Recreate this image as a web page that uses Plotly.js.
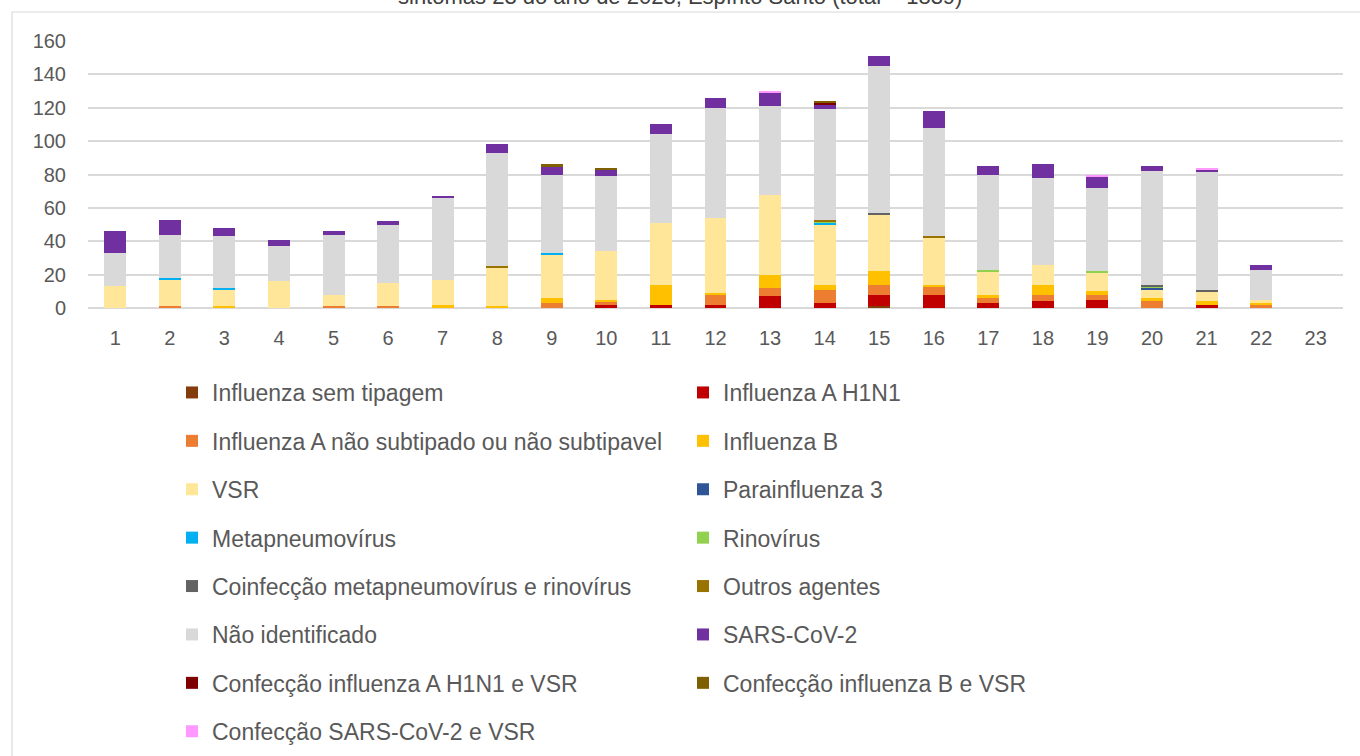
<!DOCTYPE html>
<html>
<head>
<meta charset="utf-8">
<script src="https://cdn.plot.ly/plotly-3.0.1.min.js"></script>
<style>
html,body{margin:0;padding:0;background:#fff;}
#chart{width:1360px;height:756px;}
</style>
</head>
<body>
<div id="chart"></div>
<script>
const weeks = ["1","2","3","4","5","6","7","8","9","10","11","12","13","14","15","16","17","18","19","20","21","22","23"];
const titleText = "sintomas 23 do ano de 2023, Espírito Santo (total = 1839)";

const influenzaSemTipagem   = [0,0,0,0,0,0,0,0,0,0,0,0,0,0,1,0,0,0,0,0,0,0,0];
const influenzaAH1N1        = [0,0,0,0,0,0,0,0,0,2,2,2,7,3,7,8,3,4,5,0,2,0,0];
const influenzaANaoSubtip   = [0,1,0,0,1,1,0,0,3,2,0,6,5,8,6,5,3,4,3,4,0,2,0];
const influenzaB            = [0,0,1,0,0,0,2,1,3,1,12,1,8,3,8,1,2,6,2,2,2,1,0];
const vsr                   = [13,16,10,16,7,14,15,23,26,29,37,45,48,36,34,28,14,12,11,5,6,2,0];
const parainfluenza3        = [0,0,0,0,0,0,0,0,0,0,0,0,0,0,0,0,0,0,0,1,0,0,0];
const metapneumovirus       = [0,1,1,0,0,0,0,0,1,0,0,0,0,1,0,0,0,0,0,0,0,0,0];
const rinovirus             = [0,0,0,0,0,0,0,0,0,0,0,0,0,1,0,0,1,0,1,1,0,0,0];
const coinfMetaRino         = [0,0,0,0,0,0,0,0,0,0,0,0,0,0,1,0,0,0,0,1,1,0,0];
const outrosAgentes         = [0,0,0,0,0,0,0,1,0,0,0,0,0,1,0,1,0,0,0,0,0,0,0];
const naoIdentificado       = [20,26,31,21,36,35,49,68,47,45,53,66,53,66,88,65,57,52,50,68,71,18,0];
const sarsCov2              = [13,9,5,4,2,2,1,5,5,4,6,6,8,3,6,10,5,8,7,3,1,3,0];
const confH1N1VSR           = [0,0,0,0,0,0,0,0,0,0,0,0,0,1,0,0,0,0,0,0,0,0,0];
const confBVSR              = [0,0,0,0,0,0,0,0,1,1,0,0,0,1,0,0,0,0,0,0,0,0,0];
const confSarsVSR           = [0,0,0,0,0,0,0,0,0,0,0,0,1,0,0,0,0,0,1,0,1,0,0];

const seriesNames = [
  "Influenza sem tipagem","Influenza A H1N1","Influenza A não subtipado ou não subtipavel","Influenza B",
  "VSR","Parainfluenza 3","Metapneumovírus","Rinovírus","Coinfecção metapneumovírus e rinovírus",
  "Outros agentes","Não identificado","SARS-CoV-2","Confecção influenza A H1N1 e VSR",
  "Confecção influenza B e VSR","Confecção SARS-CoV-2 e VSR"
];
const seriesValues = [
  influenzaSemTipagem, influenzaAH1N1, influenzaANaoSubtip, influenzaB, vsr, parainfluenza3,
  metapneumovirus, rinovirus, coinfMetaRino, outrosAgentes, naoIdentificado, sarsCov2,
  confH1N1VSR, confBVSR, confSarsVSR
];
const seriesColors = [
  "#843C0C","#C00000","#ED7D31","#FFC000","#FFE699","#2F5597","#00B0F0","#92D050","#636363",
  "#997300","#D9D9D9","#7030A0","#7F0000","#7F6000","#FF99FF"
];

const traces = seriesNames.map((name, i) => ({
  type: "bar",
  name: name,
  x: weeks,
  y: seriesValues[i],
  marker: {color: seriesColors[i]},
  legend: (i % 2 === 0) ? "legend" : "legend2",
  legendgroup: "g" + i,
  hoverinfo: "name+y"
}));

const textColor = "#595959";
const fontFam = "Liberation Sans, Arial, sans-serif";

// plot area in pixels: left 88, right 1343, top 41, bottom 308
const PL = 88, PR = 1343, PT = 41, PB = 308;
const PW = PR - PL, PH = PB - PT;
const px2x = p => (p - PL) / PW;
const px2y = p => 1 - (p - PT) / PH;

const legendCommon = {
  orientation: "v",
  xanchor: "left",
  yanchor: "top",
  traceorder: "grouped",
  tracegroupgap: 15.5,
  maxheight: 2000,
  itemclick: false,
  itemdoubleclick: false,
  bgcolor: "rgba(0,0,0,0)",
  borderwidth: 0,
  font: {family: fontFam, size: 23, color: textColor}
};

const layout = {
  width: 1360,
  height: 756,
  paper_bgcolor: "#ffffff",
  plot_bgcolor: "#ffffff",
  barmode: "stack",
  bargap: 0.597,
  margin: {l: PL, r: 1360 - PR, t: PT, b: 756 - PB, pad: 0, autoexpand: false},
  font: {family: fontFam, color: textColor},
  xaxis: {
    type: "category",
    range: [-0.5, 22.5],
    showgrid: false,
    showline: false,
    ticks: "",
    ticklabelstandoff: 16,
    tickfont: {family: fontFam, size: 20, color: textColor},
    fixedrange: true
  },
  yaxis: {
    range: [0, 160],
    dtick: 20,
    showgrid: true,
    gridcolor: "#D9D9D9",
    gridwidth: 1.5,
    zeroline: true,
    zerolinecolor: "#D9D9D9",
    zerolinewidth: 1.5,
    showline: false,
    ticks: "",
    ticklabelstandoff: 21,
    tickfont: {family: fontFam, size: 20, color: textColor},
    fixedrange: true
  },
  legend: Object.assign({}, legendCommon, {x: px2x(172), y: px2y(371)}),
  legend2: Object.assign({}, legendCommon, {x: px2x(683), y: px2y(371)}),
  annotations: [{
    text: titleText,
    xref: "paper", yref: "paper",
    x: px2x(680), y: px2y(-4),
    xanchor: "center", yanchor: "middle",
    showarrow: false,
    font: {family: fontFam, size: 22, color: "#404040"}
  }],
  shapes: [
    {type: "line", xref: "paper", yref: "paper", x0: px2x(12), x1: px2x(1400), y0: px2y(12), y1: px2y(12),
     line: {color: "#D9D9D9", width: 1.2}, layer: "below"},
    {type: "line", xref: "paper", yref: "paper", x0: px2x(12), x1: px2x(12), y0: px2y(12), y1: px2y(800),
     line: {color: "#D9D9D9", width: 1.2}, layer: "below"}
  ],
  showlegend: true
};

Plotly.newPlot("chart", traces, layout, {displayModeBar: false, staticPlot: false});
</script>
</body>
</html>
